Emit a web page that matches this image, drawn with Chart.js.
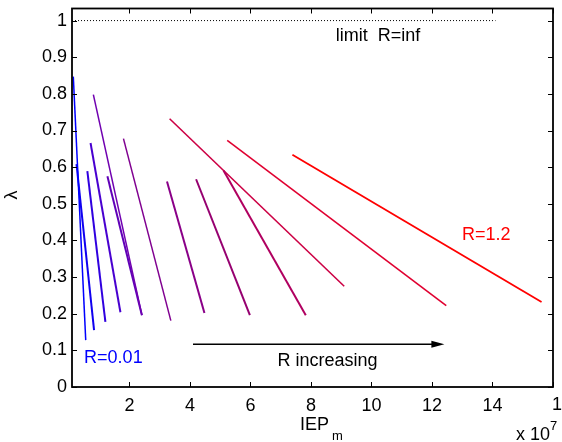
<!DOCTYPE html>
<html>
<head>
<meta charset="utf-8">
<script src="https://cdn.jsdelivr.net/npm/chart.js@4.4.1/dist/chart.umd.min.js"></script>
<style>
  html, body { margin: 0; padding: 0; background: #fff; }
  #wrap { width: 562px; height: 442px; }
</style>
</head>
<body>
<div id="wrap"><canvas id="chart"></canvas></div>
<script>
// lambda vs IEP_m (x in units of 1e7), one straight segment each, R increasing left to right
const segStartX = [0.143, 0.249, 0.607, 0.713, 0.806, 1.270, 1.801, 3.240, 4.202, 5.108, 3.327, 5.231, 7.386];
const segStartY = [0.847, 0.608, 0.589, 0.666, 0.798, 0.575, 0.678, 0.561, 0.567, 0.591, 0.732, 0.673, 0.634];
const segEndX   = [0.554, 0.829, 1.204, 1.701, 2.411, 2.411, 3.367, 4.478, 5.980, 7.828, 9.098, 12.471, 15.622];
const segEndY   = [0.128, 0.155, 0.178, 0.204, 0.196, 0.196, 0.181, 0.202, 0.196, 0.196, 0.275, 0.222, 0.232];

const xTicks = [2, 4, 6, 8, 10, 12, 14, 16];
const yTicks = [0, 0.1, 0.2, 0.3, 0.4, 0.5, 0.6, 0.7, 0.8, 0.9, 1];

const limitX = [0.1, 14.1];
const limitY = [1, 1];
const arrowX = [4.1, 12.41];
const arrowY = [0.117, 0.117];

// styles (blue for small R through purple to red for large R)
const segColors = ['#0000ff', '#1000f0', '#3000e0', '#4800d0', '#7000b0', '#6000b8', '#800090',
                   '#8a0088', '#960070', '#b00060', '#cc0044', '#e00030', '#ff0000'];
const segWidths = [1.5, 2, 2, 2, 1.5, 2, 1.5, 2, 2, 2, 1.6, 1.6, 1.8];

const FONT = "'Liberation Sans', Arial, sans-serif";

const datasets = segStartX.map((x0, i) => ({
    data: [{ x: x0, y: segStartY[i] }, { x: segEndX[i], y: segEndY[i] }],
    borderColor: segColors[i],
    borderWidth: segWidths[i],
    pointRadius: 0,
    showLine: true
}));
datasets.push({
    data: [{ x: limitX[0], y: limitY[0] }, { x: limitX[1], y: limitY[1] }],
    borderColor: '#000',
    borderWidth: 1,
    borderDash: [1, 2],
    pointRadius: 0,
    showLine: true
});

// matlab style box, inward ticks, titles and annotations
const decorations = {
    id: 'decorations',
    afterDraw(chart) {
        const { ctx, chartArea: a, scales: { x, y } } = chart;
        ctx.save();
        ctx.strokeStyle = '#000';
        ctx.lineWidth = 1.8;
        ctx.strokeRect(a.left, a.top, a.right - a.left, a.bottom - a.top);

        ctx.lineWidth = 1;
        ctx.beginPath();
        xTicks.forEach(v => {
            const px = Math.round(x.getPixelForValue(v)) + 0.5;
            ctx.moveTo(px, a.bottom); ctx.lineTo(px, a.bottom - 5);
            ctx.moveTo(px, a.top); ctx.lineTo(px, a.top + 5);
        });
        yTicks.forEach(v => {
            const py = Math.round(y.getPixelForValue(v)) + 0.5;
            ctx.moveTo(a.left, py); ctx.lineTo(a.left + 5, py);
            ctx.moveTo(a.right, py); ctx.lineTo(a.right - 5, py);
        });
        ctx.stroke();

        // "R increasing" arrow
        const ax0 = x.getPixelForValue(arrowX[0]), ax1 = x.getPixelForValue(arrowX[1]);
        const ay = y.getPixelForValue(arrowY[0]);
        ctx.lineWidth = 1.5;
        ctx.beginPath();
        ctx.moveTo(ax0, ay); ctx.lineTo(ax1 - 10, ay);
        ctx.stroke();
        ctx.fillStyle = '#000';
        ctx.beginPath();
        ctx.moveTo(ax1, ay); ctx.lineTo(ax1 - 13, ay - 3.5); ctx.lineTo(ax1 - 13, ay + 3.5);
        ctx.closePath();
        ctx.fill();

        ctx.textBaseline = 'alphabetic';
        ctx.font = '18px ' + FONT;
        ctx.fillStyle = '#000';
        ctx.fillText('limit  R=inf', x.getPixelForValue(8.82), y.getPixelForValue(0.943));
        ctx.fillText('R increasing', x.getPixelForValue(6.89), y.getPixelForValue(0.057));
        ctx.fillStyle = '#ff0000';
        ctx.fillText('R=1.2', x.getPixelForValue(12.99), y.getPixelForValue(0.402));
        ctx.fillStyle = '#0000ff';
        ctx.fillText('R=0.01', x.getPixelForValue(0.5), y.getPixelForValue(0.065));

        // last x tick label runs off the edge
        ctx.fillStyle = '#000';
        ctx.fillText('16', a.right - 1, 410);

        // axis titles
        ctx.fillText('IEP', 300, 430);
        ctx.font = '13px ' + FONT;
        ctx.fillText('m', 332, 440);
        ctx.font = '18px ' + FONT;
        ctx.fillText('x 10', 516, 440);
        ctx.font = '13px ' + FONT;
        ctx.fillText('7', 550, 430);

        ctx.font = '18px ' + FONT;
        ctx.translate(17, 195);
        ctx.rotate(-Math.PI / 2);
        ctx.textAlign = 'center';
        ctx.fillText('λ', 0, 0);
        ctx.restore();
    }
};

new Chart(document.getElementById('chart'), {
    type: 'scatter',
    data: { datasets },
    options: {
        responsive: true,
        maintainAspectRatio: false,
        animation: false,
        layout: { padding: { top: 8.5, right: 9, left: 0, bottom: 0 } },
        plugins: { legend: { display: false }, tooltip: { enabled: false } },
        scales: {
            x: {
                type: 'linear',
                min: 0.1,
                max: 16,
                afterBuildTicks: s => { s.ticks = xTicks.map(v => ({ value: v })); },
                afterFit: s => { s.height = 55; s.paddingLeft = 0; s.paddingRight = 0; },
                grid: { display: false, drawTicks: false },
                border: { display: false },
                ticks: {
                    autoSkip: false,
                    maxRotation: 0,
                    padding: 8,
                    color: '#000',
                    font: { family: FONT, size: 18 },
                    callback: v => (v === 16 ? '' : String(v))
                }
            },
            y: {
                type: 'linear',
                min: 0,
                max: 1.033,
                afterBuildTicks: s => { s.ticks = yTicks.map(v => ({ value: v })); },
                afterFit: s => { s.width = 72; s.paddingTop = 0; s.paddingBottom = 0; },
                grid: { display: false, drawTicks: false },
                border: { display: false },
                ticks: {
                    autoSkip: false,
                    padding: 5,
                    color: '#000',
                    font: { family: FONT, size: 18 },
                    callback: v => String(Math.round(v * 10) / 10)
                }
            }
        }
    },
    plugins: [decorations]
});
</script>
</body>
</html>
